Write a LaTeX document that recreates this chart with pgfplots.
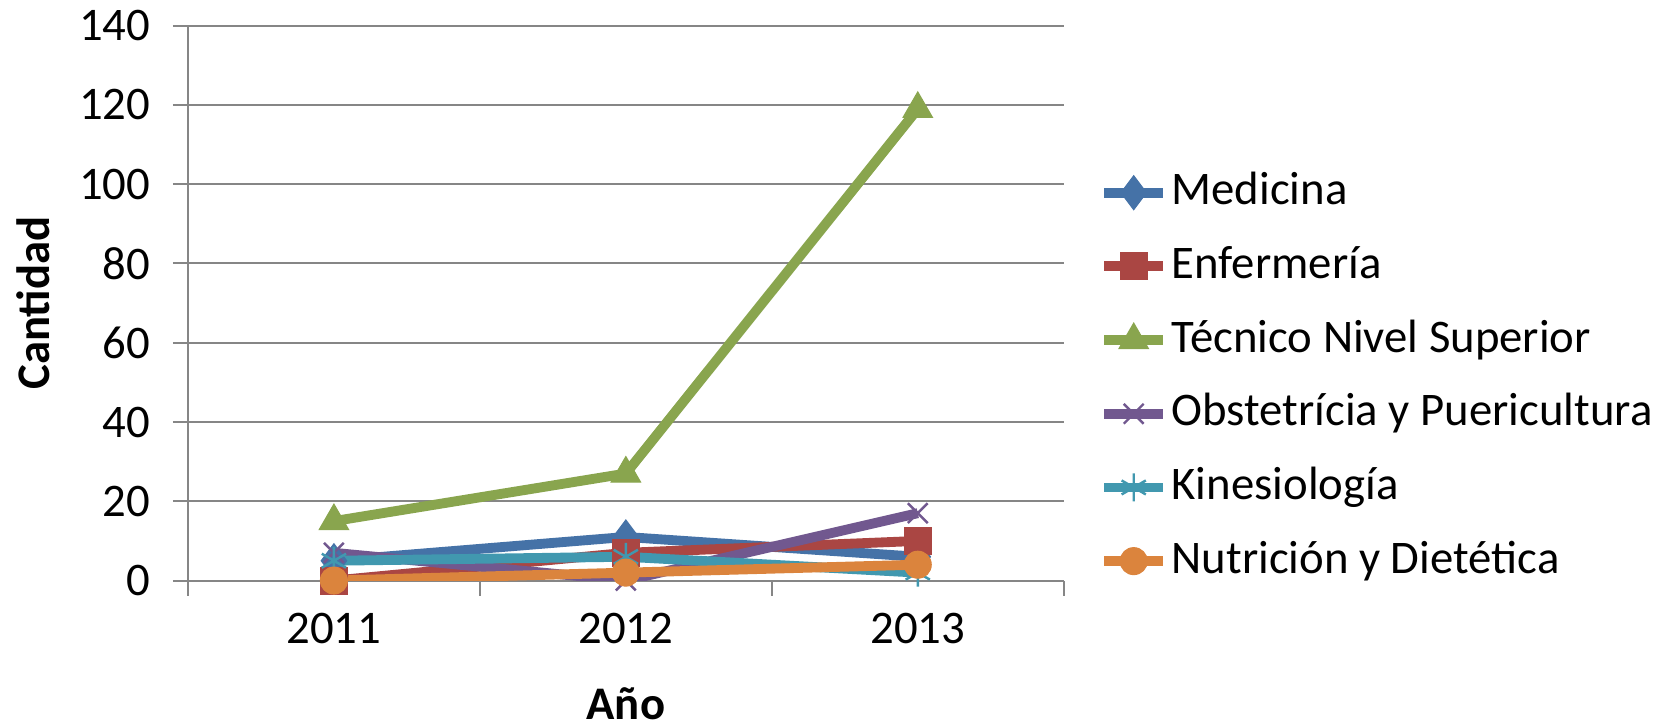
\documentclass[border=0pt]{standalone}
\usepackage{pgfplots}
\pgfplotsset{compat=1.18}
\usetikzlibrary{calc}
\usepackage{fontspec}
\setmainfont{Carlito}

\definecolor{cMed}{HTML}{4572A7}
\definecolor{cEnf}{HTML}{AA4643}
\definecolor{cTec}{HTML}{89A54E}
\definecolor{cObs}{HTML}{71588F}
\definecolor{cKin}{HTML}{4198AF}
\definecolor{cNut}{HTML}{DB843D}
\definecolor{cGrid}{HTML}{868686}

\newcommand{\chartfont}{\fontsize{13.3}{15}\selectfont}

\begin{document}
\begin{tikzpicture}
\begin{axis}[
    name=ax,
    scale only axis,
    width=87.6mm, height=55.5mm,
    xmin=0.5, xmax=3.5, ymin=0, ymax=140,
    axis x line*=bottom, axis y line*=left,
    axis line style={-, draw=cGrid, line width=0.2mm},
    ytick={0,20,...,140},
    xtick={0.5,1.5,2.5,3.5}, xticklabels={},
    extra x ticks={1,2,3},
    extra x tick labels={2011,2012,2013},
    extra x tick style={major tick length=0pt, xticklabel style={yshift=-1.6mm}},
    tick align=outside,
    major tick length=1.5mm,
    tick style={draw=cGrid, line width=0.2mm},
    ymajorgrids,
    grid style={draw=cGrid, line width=0.2mm},
    /pgf/number format/assume math mode=true,
    tick label style={font=\chartfont},
    yticklabel style={xshift=-0.6mm},
    xlabel={\textbf{Año}}, ylabel={\textbf{Cantidad}},
    label style={font=\chartfont},
    xlabel style={at={(axis description cs:0.5,-0.222)}, anchor=center},
    ylabel style={at={(axis description cs:-0.177,0.5)}, anchor=center},
    line width=2.8pt,
    legend cell align=left,
    legend style={draw=none, fill=none, at={(1.035,0.367)}, anchor=west,
        inner sep=0pt, row sep=2.97mm, font=\chartfont,
        nodes={text height=3.4mm, text depth=1mm, inner sep=0pt, inner xsep=0.35mm}},
    legend image code/.code={%
        \draw[mark repeat=2,mark phase=2] plot coordinates {(0mm,0mm) (2.95mm,0mm) (5.9mm,0mm)};},
]
\addplot[color=cMed, mark=diamond*, mark size=1.7mm, mark options={solid, fill=cMed, line width=0.3pt}]
    coordinates {(1,5) (2,11) (3,6)};
\addlegendentry{Medicina}
\addplot[color=cEnf, mark=square*, mark size=1.35mm, mark options={solid, fill=cEnf, line width=0.3pt}]
    coordinates {(1,0) (2,7) (3,10)};
\addlegendentry{Enfermería}
\addplot[color=cTec, mark=triangle*, mark size=1.7mm, mark options={solid, fill=cTec, line width=0.3pt}]
    coordinates {(1,15) (2,27) (3,119)};
\addlegendentry{Técnico Nivel Superior}
\addplot[color=cObs, mark=x, mark size=1.4mm, mark options={solid, line width=0.7pt}]
    coordinates {(1,7) (2,0) (3,17)};
\addlegendentry{Obstetrícia y Puericultura}
\addplot[color=cKin, mark=asterisk, mark size=1.4mm, mark options={solid, line width=0.7pt}]
    coordinates {(1,5) (2,6) (3,2)};
\addlegendentry{Kinesiología}
\addplot[color=cNut, mark=*, mark size=1.35mm, mark options={solid, fill=cNut, line width=0.3pt}]
    coordinates {(1,0) (2,2) (3,4)};
\addlegendentry{Nutrición y Dietética}
\end{axis}
\pgfresetboundingbox
\path[use as bounding box] ($(ax.south west)+(-18.8mm,-14.56mm)$) rectangle ($(ax.north east)+(61.24mm,2.57mm)$);
\end{tikzpicture}
\end{document}
